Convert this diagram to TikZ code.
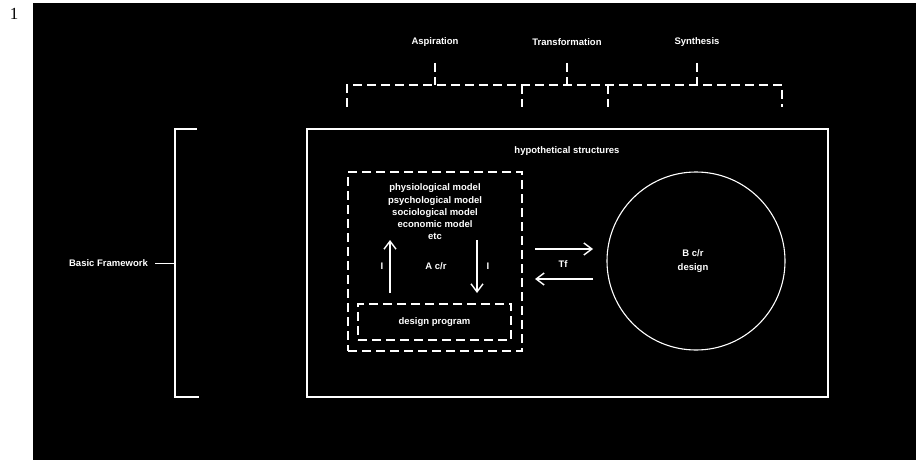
\documentclass[tikz,border=0pt]{standalone}
\usepackage{fontspec}
\setmainfont{Liberation Sans}
\newfontfamily\numfont{Liberation Serif}
\usetikzlibrary{arrows.meta}
\begin{document}
\begin{tikzpicture}[x=1pt,y=-1pt,
  lbl/.style={text=white,font=\fontsize{9.5}{12.2}\selectfont\bfseries,inner sep=1pt},
  wline/.style={draw=white,line width=1.4pt},
  dline/.style={draw=white,line width=1.4pt,dash pattern=on 9pt off 5pt},
  thinline/.style={draw=white,line width=0.8pt},
  arr/.style={-{Straight Barb[length=8pt,width=12pt,line width=1.4pt]},draw=white,line width=1.4pt}]
\useasboundingbox (0,0) rectangle (918,460);
\fill[white] (0,0) rectangle (918,460);
\fill[black] (33,3) rectangle (916,460);
\node[font=\fontsize{17}{17}\selectfont\numfont,text=black,inner sep=0] (num) at (14,14) {1};

% top labels
\node[lbl] (asp) at (435,42) {Aspiration};
\node[lbl] (trans) at (567,42) {Transformation};
\node[lbl] (syn) at (697,42) {Synthesis};

% top dashed bracket
\coordinate (tl) at (347,107);
\coordinate (tlc) at (347,85);
\coordinate (trc) at (782,85);
\coordinate (tr) at (782,107);
\coordinate (t1) at (522,85);
\coordinate (t1b) at (522,107);
\coordinate (t2) at (608,85);
\coordinate (t2b) at (608,107);
\draw[dline] (tl) -- (tlc) -- (trc) -- (tr);
\draw[dline] (t1) -- (t1b);
\draw[dline] (t2) -- (t2b);
\draw[dline] ([yshift=-21pt]asp.center) -- (asp.center |- tlc);
\draw[dline] ([yshift=-21pt]trans.center) -- (trans.center |- tlc);
\draw[dline] ([yshift=-21pt]syn.center) -- (syn.center |- tlc);

% outer rectangle
\node[wline,minimum width=521,minimum height=268,inner sep=0] (hyp) at (567.5,263) {};
\node[lbl] (hs) at (567,151) {hypothetical structures};

% left bracket
\coordinate (lb1) at (197,129);
\coordinate (lb2) at (175,129);
\coordinate (lb3) at (175,397);
\coordinate (lb4) at (199,397);
\coordinate (lbm) at (175,263);
\draw[wline] (lb1) -- (lb2) -- (lb3) -- (lb4);
\node[lbl,anchor=east] (bf) at (149,263) {Basic Framework};
\draw[thinline] ([xshift=6pt]bf.east) -- (lbm);

% inner dashed box
\node[dline,minimum width=174,minimum height=179,inner sep=0] (inner) at (435,261.5) {};
\node[lbl,align=center] (models) at (435,212) {physiological model\\psychological model\\sociological model\\economic model\\etc};
\node[lbl] (acr) at (436,266) {A c/r};
\node[lbl] (i1) at (382,266) {I};
\node[lbl] (i2) at (488,266) {I};
\coordinate (ua) at (390,293);
\coordinate (ub) at (390,240);
\coordinate (da) at (477,240);
\coordinate (db) at (477,293);
\draw[arr] (ua) -- (ub);
\draw[arr] (da) -- (db);

% design program box
\node[dline,lbl,minimum width=153,minimum height=36] (dp) at (434.5,322) {design program};

% circle
\node[circle,draw=white,line width=1.1pt,minimum size=178,inner sep=0] (circ) at (696,261) {};
\node[lbl,align=center,font=\fontsize{9.5}{14}\selectfont\bfseries] (bcr) at (693,261) {B c/r\\design};

% Tf arrows
\coordinate (r1) at (535,249);
\coordinate (r2) at (593,249);
\coordinate (l1) at (593,279);
\coordinate (l2) at (535,279);
\draw[arr] (r1) -- (r2);
\draw[arr] (l1) -- (l2);
\node[lbl] (tf) at (563,264) {Tf};
\end{tikzpicture}
\end{document}
